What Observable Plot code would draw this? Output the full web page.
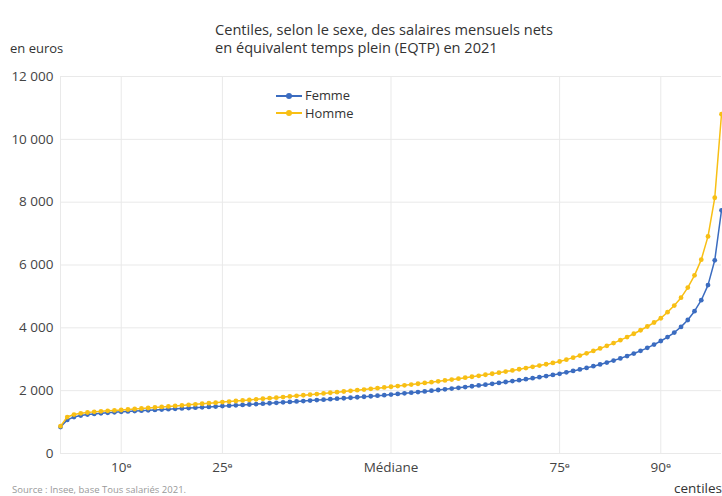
<!DOCTYPE html>
<html>
<head>
<meta charset="utf-8">
<script src="https://cdn.jsdelivr.net/npm/d3@7"></script>
<script src="https://cdn.jsdelivr.net/npm/@observablehq/plot@0.6"></script>
<style>
  html, body { margin: 0; padding: 0; background: #fff; }
  #wrap { position: relative; width: 722px; height: 496px; overflow: hidden; font-family: "Open Sans", "Noto Sans", sans-serif; color: #333; }
  #wrap svg { position: absolute; left: 0; top: 0; }
  .abs { position: absolute; white-space: nowrap; }
  .tl { left: 215px; font-size: 14.6px; line-height: 18px; color: #333; }
  #t1 { top: 20px; }
  #t2 { top: 38px; }
  #unit { left: 10px; top: 39px; font-size: 13px; color: #333; }
  #xlab { left: 674px; top: 479px; font-size: 13.5px; color: #333; }
  #src { left: 12px; top: 484px; font-size: 9.5px; line-height: 11px; color: #999; }
  #legend { left: 276px; top: 87px; font-size: 12.9px; color: #333; }
  .li { display: flex; align-items: center; height: 17.6px; line-height: 17.6px; }
  .sw { position: relative; width: 26px; height: 2px; margin-right: 3px; }
  .sw i { position: absolute; left: 10px; top: -2px; width: 6px; height: 6px; border-radius: 50%; }
</style>
</head>
<body>
<div id="wrap">
  <div id="chart"></div>
  <div id="t1" class="abs tl">Centiles, selon le sexe, des salaires mensuels nets</div>
  <div id="t2" class="abs tl">en équivalent temps plein (EQTP) en 2021</div>
  <div id="unit" class="abs">en euros</div>
  <div id="legend" class="abs"></div>
  <div id="xlab" class="abs">centiles</div>
  <div id="src" class="abs">Source : Insee, base Tous salariés 2021.</div>
</div>
<script>
const centiles = d3.range(1, 100);
const femme = [
  840, 1070, 1160, 1210, 1240, 1260, 1280, 1295, 1310, 1325,
  1338, 1350, 1362, 1374, 1386, 1398, 1410, 1422, 1434, 1446,
  1458, 1470, 1482, 1495, 1508, 1521, 1534, 1547, 1560, 1573,
  1586, 1600, 1614, 1628, 1642, 1656, 1670, 1684, 1699, 1714,
  1729, 1744, 1759, 1775, 1791, 1807, 1823, 1840, 1857, 1875,
  1895, 1915, 1935, 1956, 1977, 1999, 2021, 2044, 2067, 2091,
  2115, 2140, 2166, 2192, 2219, 2247, 2276, 2305, 2335, 2366,
  2398, 2431, 2465, 2500, 2536, 2583, 2628, 2675, 2725, 2778,
  2834, 2894, 2958, 3027, 3101, 3181, 3268, 3363, 3467, 3581,
  3705, 3850, 4030, 4250, 4530, 4880, 5360, 6150, 7740
];
const homme = [
  870, 1160, 1240, 1280, 1305, 1325, 1342, 1357, 1371, 1385,
  1401, 1417, 1433, 1449, 1465, 1481, 1497, 1514, 1531, 1548,
  1565, 1583, 1601, 1619, 1637, 1654, 1671, 1688, 1706, 1724,
  1742, 1760, 1778, 1797, 1816, 1835, 1854, 1873, 1893, 1913,
  1933, 1953, 1973, 1994, 2015, 2036, 2058, 2080, 2102, 2124,
  2147, 2171, 2195, 2220, 2245, 2271, 2298, 2325, 2353, 2382,
  2412, 2443, 2474, 2506, 2539, 2573, 2608, 2644, 2681, 2719,
  2758, 2799, 2841, 2884, 2929, 2988, 3051, 3118, 3189, 3264,
  3343, 3426, 3514, 3607, 3706, 3811, 3923, 4042, 4169, 4305,
  4500, 4710, 4960, 5280, 5670, 6170, 6910, 8140, 10800
];
const series = ["Femme", "Homme"];
const colors = ["#3b6cc0", "#f8bf14"];
const yTicks = [0, 2000, 4000, 6000, 8000, 10000, 12000];
const xTicks = [10, 25, 50, 75, 90];
const xTickLabels = ["10ᵉ", "25ᵉ", "Médiane", "75ᵉ", "90ᵉ"];
const xGrid = [1, 10, 25, 50, 75, 90];

const dataF = centiles.map((c, i) => ({c, v: femme[i], s: "Femme"}));
const dataH = centiles.map((c, i) => ({c, v: homme[i], s: "Homme"}));

const fmt = d => d === 0 ? "0" : d3.format(",")(d).replace(/,/g, " ");

const chart = Plot.plot({
  width: 722,
  height: 496,
  marginTop: 76,
  marginBottom: 43,
  marginLeft: 60,
  marginRight: 1,
  style: {fontFamily: "'Open Sans', 'Noto Sans', sans-serif", fontSize: "13.5px", color: "#444", background: "transparent"},
  x: {domain: [1, 99]},
  y: {domain: [0, 12000]},
  color: {domain: series, range: colors},
  marks: [
    Plot.gridY(yTicks, {stroke: "#e9e9e9", strokeOpacity: 1}),
    Plot.gridX(xGrid, {stroke: "#e9e9e9", strokeOpacity: 1}),
    Plot.axisY(yTicks, {tickSize: 0, tickPadding: 7, tickFormat: fmt, label: null, fill: "#444"}),
    Plot.axisX(xTicks, {tickSize: 0, tickPadding: 9, tickFormat: d => xTickLabels[xTicks.indexOf(d)], label: null, fill: "#444"}),
    Plot.line(dataF, {x: "c", y: "v", stroke: "s", strokeWidth: 1.5}),
    Plot.dot(dataF, {x: "c", y: "v", fill: "s", r: 2.4}),
    Plot.line(dataH, {x: "c", y: "v", stroke: "s", strokeWidth: 1.5}),
    Plot.dot(dataH, {x: "c", y: "v", fill: "s", r: 2.4})
  ]
});
document.getElementById("chart").appendChild(chart);

const legend = document.getElementById("legend");
series.forEach((s, i) => {
  const row = document.createElement("div");
  row.className = "li";
  row.innerHTML = `<span class="sw" style="background:${colors[i]}"><i style="background:${colors[i]}"></i></span><span>${s}</span>`;
  legend.appendChild(row);
});
</script>
</body>
</html>
